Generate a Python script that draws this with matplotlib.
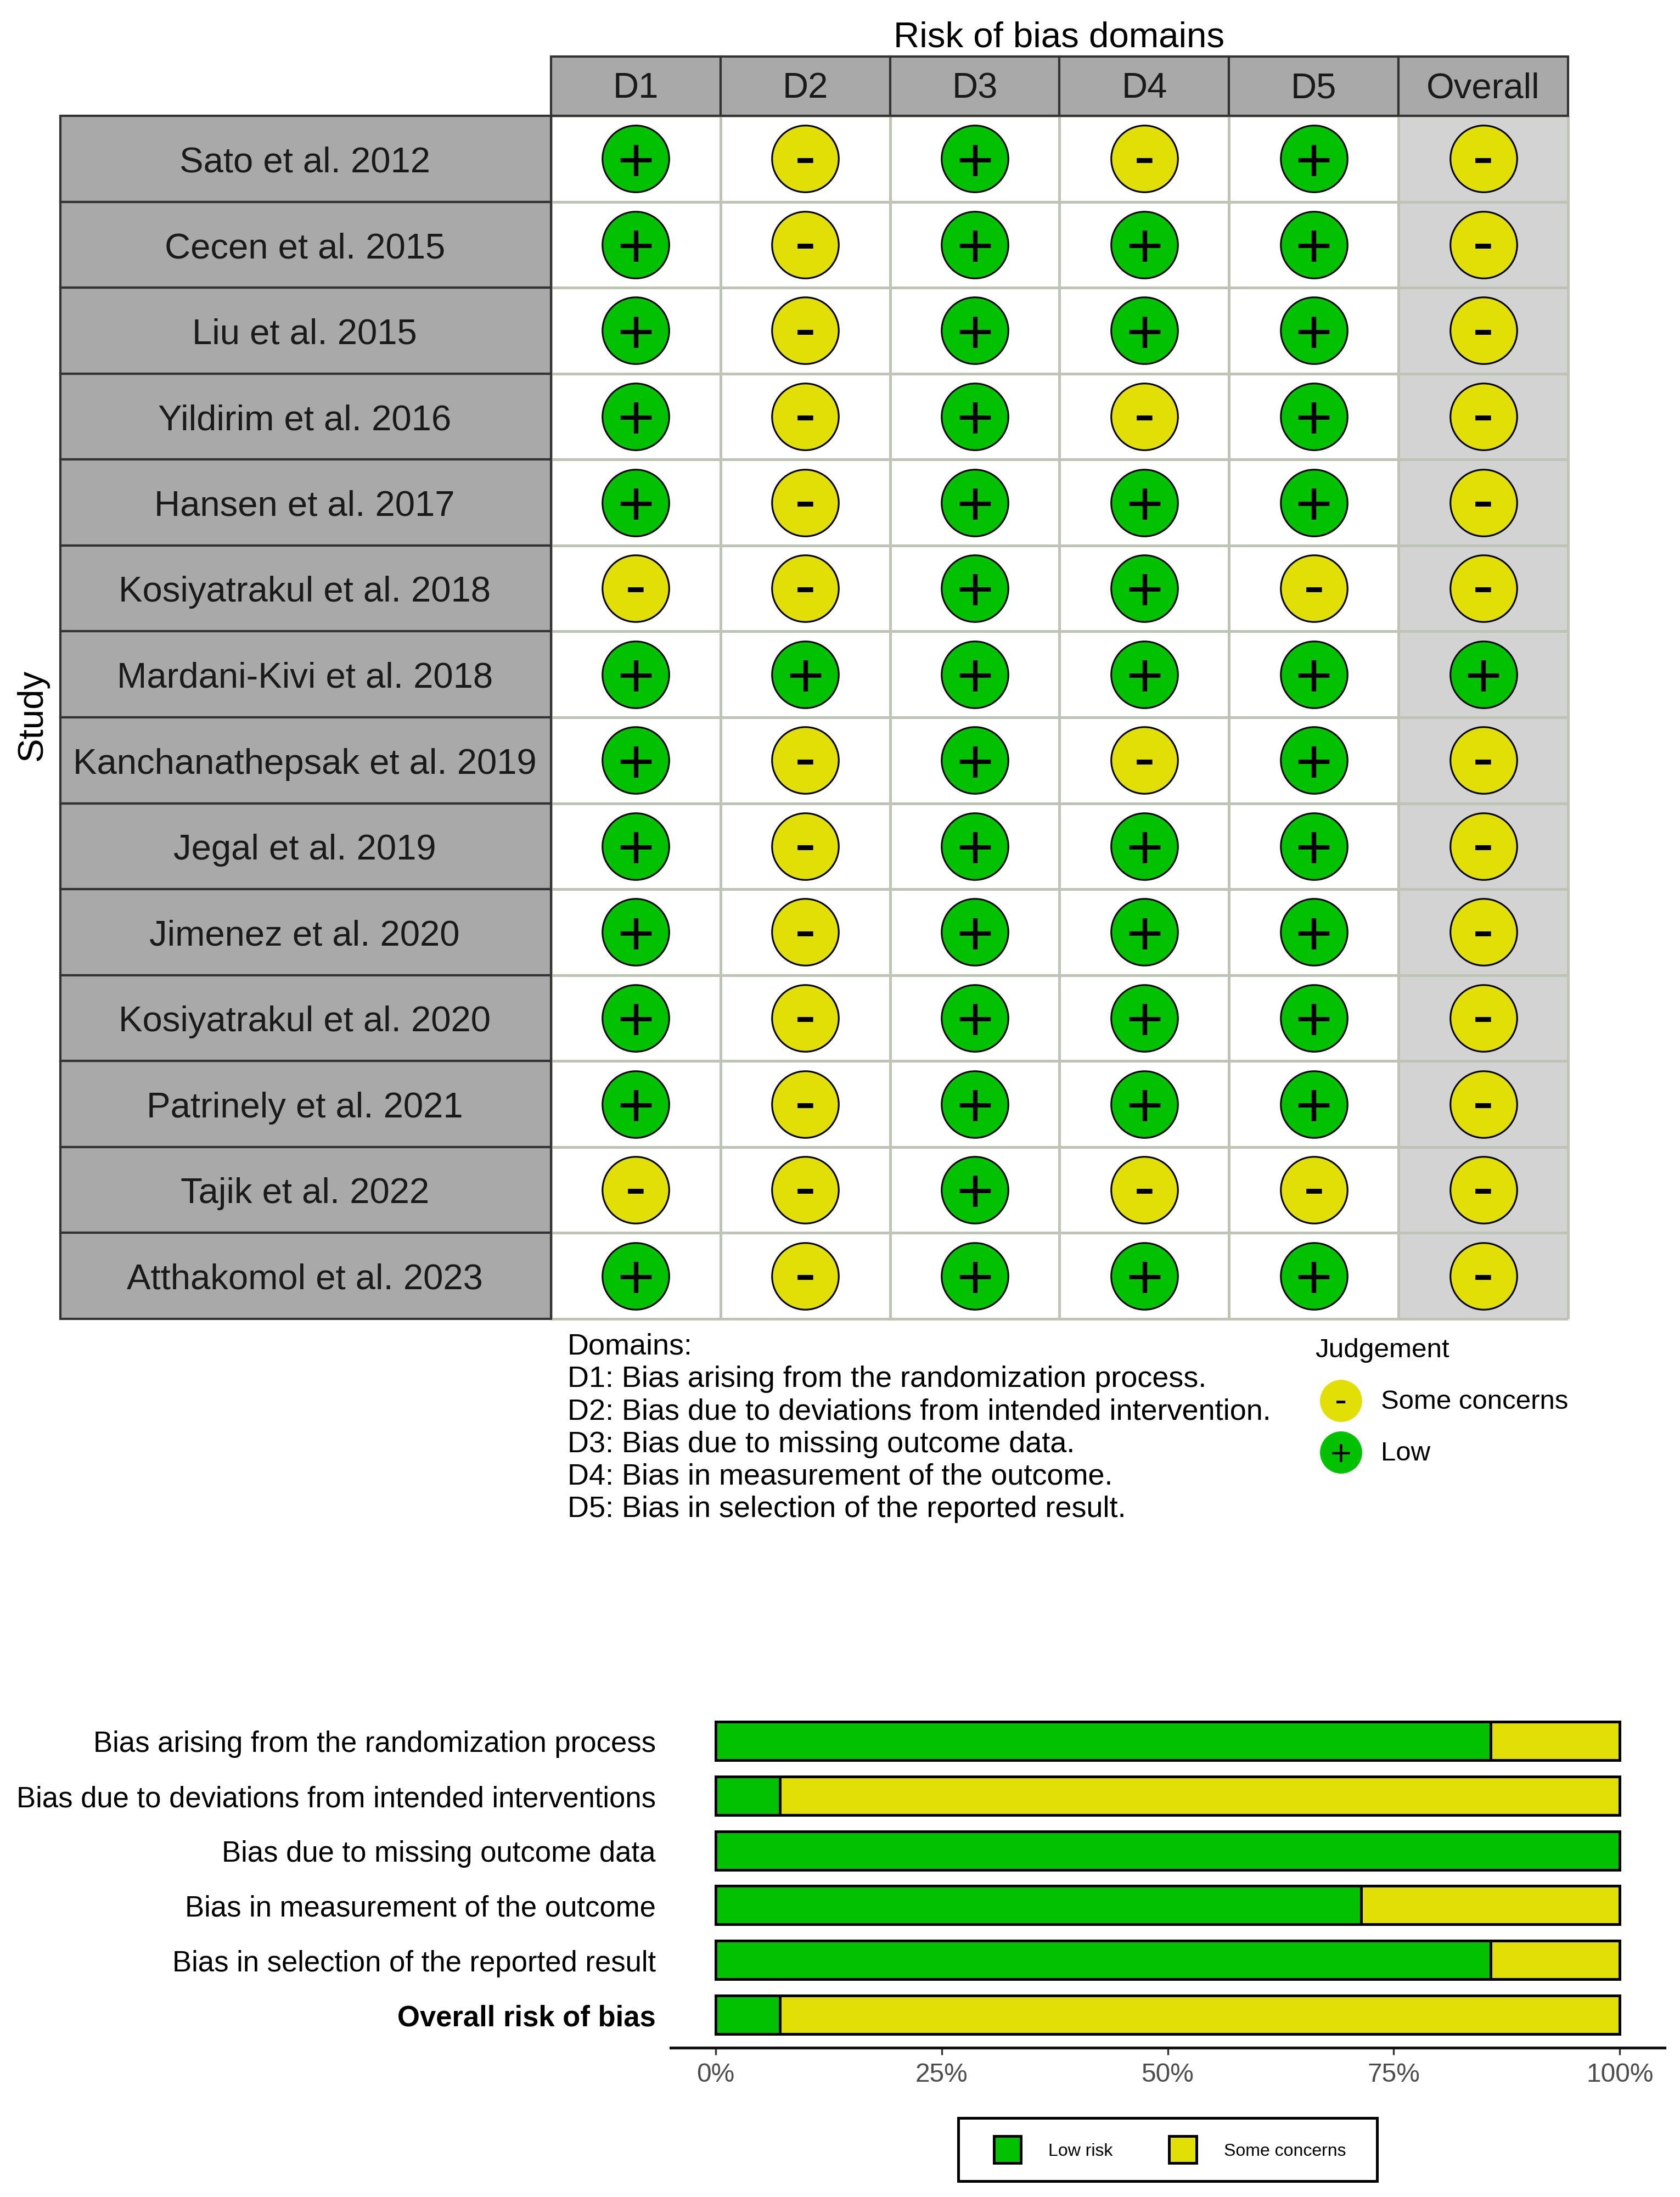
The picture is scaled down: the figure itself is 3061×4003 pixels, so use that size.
import numpy as np
import matplotlib
matplotlib.use("Agg")
import matplotlib.pyplot as plt
from matplotlib.patches import Patch

plt.rcParams['font.family'] = ['Liberation Sans', 'DejaVu Sans']

studies = ["Sato et al. 2012", "Cecen et al. 2015", "Liu et al. 2015", "Yildirim et al. 2016",
           "Hansen et al. 2017", "Kosiyatrakul et al. 2018", "Mardani-Kivi et al. 2018",
           "Kanchanathepsak et al. 2019", "Jegal et al. 2019", "Jimenez et al. 2020",
           "Kosiyatrakul et al. 2020", "Patrinely et al. 2021", "Tajik et al. 2022",
           "Atthakomol et al. 2023"]
domains = ["D1", "D2", "D3", "D4", "D5", "Overall"]
judgements = ["+-+-+-", "+-+++-", "+-+++-", "+-+-+-", "+-+++-", "--++--", "++++++",
              "+-+-+-", "+-+++-", "+-+++-", "+-+++-", "+-+++-", "--+---", "+-+++-"]

domain_notes = ["Domains:",
                "D1: Bias arising from the randomization process.",
                "D2: Bias due to deviations from intended intervention.",
                "D3: Bias due to missing outcome data.",
                "D4: Bias in measurement of the outcome.",
                "D5: Bias in selection of the reported result."]

bar_labels = ["Bias arising from the randomization process",
              "Bias due to deviations from intended interventions",
              "Bias due to missing outcome data",
              "Bias in measurement of the outcome",
              "Bias in selection of the reported result",
              "Overall risk of bias"]
low_pct = [85.7, 7.1, 100, 71.4, 85.7, 7.1]
pct_ticks = [0, 25, 50, 75, 100]

GREEN = "#02C100"
YELLOW = "#E2DF07"
STRIP = "#A9A9A9"
DARK = "#333333"
CELL = "#BDC4B6"
COLORS = {"+": GREEN, "-": YELLOW}

W, H = 3061, 4004
fig = plt.figure(figsize=(W / 300, H / 300), dpi=300)


def px_axes(left, top, right, bottom):
    ax = fig.add_axes([left / W, 1 - bottom / H, (right - left) / W, (bottom - top) / H])
    ax.set_axis_off()
    return ax


def px_text(x, y, s, **kw):
    fig.text(x / W, 1 - y / H, s, **kw)


def put_sign(ax, x, y, sign, size):
    # sign glyphs sit above the baseline, so shift them onto the marker centre
    off = -0.345 * size if sign == "+" else -0.285 * size
    ax.annotate(sign, (x, y), xytext=(0, off), textcoords="offset points", ha="center",
                va="baseline", fontsize=size, color="black")


# traffic light grid
ax = px_axes(1004, 212, 2857, 2404)
ax.set_xlim(-0.5, 5.5)
ax.set_ylim(len(studies) - 0.5, -0.5)
ax.axvspan(4.5, 5.5, color="#D3D3D3", lw=0)
ax.vlines(np.arange(-0.5, 6), -0.5, len(studies) - 0.5, color=CELL, lw=1.2, clip_on=False)
ax.hlines(np.arange(-0.5, len(studies)), -0.5, 5.5, color=CELL, lw=1.2, clip_on=False)
for r, row in enumerate(judgements):
    for c, sign in enumerate(row):
        ax.scatter(c, r, s=850, color=COLORS[sign], edgecolor="black", lw=0.75, zorder=3)
        put_sign(ax, c, r, sign, 28)

# strips
ax_head = px_axes(1004, 104, 2857, 212)
ax_head.set_xlim(-0.5, 5.5)
ax_head.set_ylim(0, 1)
ax_head.bar(range(6), 1, width=1, align="center", color=STRIP, edgecolor=DARK, lw=1.0, clip_on=False)
for c, name in enumerate(domains):
    ax_head.text(c, 0.47, name, ha="center", va="center", fontsize=15.66, color="#1A1A1A")

ax_side = px_axes(110, 212, 1004, 2404)
ax_side.set_xlim(0, 1)
ax_side.set_ylim(len(studies) - 0.5, -0.5)
ax_side.barh(range(len(studies)), 1, height=1, color=STRIP, edgecolor=DARK, lw=1.0, clip_on=False)
for r, name in enumerate(studies):
    ax_side.text(0.498, r + 0.04, name, ha="center", va="center", fontsize=15.66, color="#1A1A1A")

px_text(1930, 68, "Risk of bias domains", ha="center", va="center", fontsize=15.7)
px_text(59, 1302, "Study", ha="center", va="center", rotation=90, fontsize=15.7)

for i, line in enumerate(domain_notes):
    px_text(1034, 2454 + i * 59.2, line, ha="left", va="center", fontsize=12.98)

# judgement key
px_text(2396, 2461, "Judgement", ha="left", va="center", fontsize=11.85)
ax_key = px_axes(2383, 2506, 2503, 2694)
ax_key.set_xlim(0, 1)
ax_key.set_ylim(1.5, -0.5)
for i, (sign, name) in enumerate(zip("-+", ["Some concerns", "Low"])):
    ax_key.scatter(0.5, i, s=340, color=COLORS[sign], lw=0, clip_on=False)
    put_sign(ax_key, 0.5, i, sign, 16)
    ax_key.text(1.11, i + 0.02, name, ha="left", va="center", fontsize=11.8)

# summary bars
ax_bar = px_axes(1222, 3113, 3033, 3732)
y = np.arange(len(bar_labels))
low = np.array(low_pct)
ax_bar.barh(y, low, height=0.7, color=GREEN, edgecolor="black", lw=1.2)
ax_bar.barh(y, 100 - low, left=low, height=0.7, color=YELLOW, edgecolor="black", lw=1.2)
ax_bar.set_xlim(-4.97, 104.97)
ax_bar.set_ylim(5.6, -0.6)
ax_bar.set_axis_on()
for side in ["top", "left", "right"]:
    ax_bar.spines[side].set_visible(False)
ax_bar.spines["bottom"].set_linewidth(1.25)
ax_bar.spines["bottom"].set_color("#111111")
ax_bar.set_xticks(pct_ticks)
ax_bar.set_xticklabels([f"{t}%" for t in pct_ticks], fontsize=11.5, color="#4D4D4D")
ax_bar.tick_params(axis="x", length=3.2, width=0.8, color="#333333", pad=3)
ax_bar.set_yticks(y)
ax_bar.set_yticklabels(bar_labels, fontsize=12.63, color="black")
ax_bar.tick_params(axis="y", length=0, pad=6.5)
ax_bar.get_yticklabels()[-1].set_fontweight("bold")

# legend box of the summary plot
ax_leg = px_axes(1746, 3860, 2509, 3975)
ax_leg.set_axis_on()
ax_leg.set_xticks([])
ax_leg.set_yticks([])
for spine in ax_leg.spines.values():
    spine.set_linewidth(1.2)
ax_leg.legend(handles=[Patch(facecolor=GREEN, edgecolor="black", lw=1.2, label="Low risk"),
                       Patch(facecolor=YELLOW, edgecolor="black", lw=1.2, label="Some concerns")],
              loc="center", bbox_to_anchor=(0.505, 0.5), ncol=2, fontsize=7.7, frameon=False,
              handlelength=1.55, handleheight=1.95, handletextpad=1.55, columnspacing=3.2,
              borderpad=0, labelcolor="black")

fig.savefig("out.png", dpi=300, facecolor="white")
